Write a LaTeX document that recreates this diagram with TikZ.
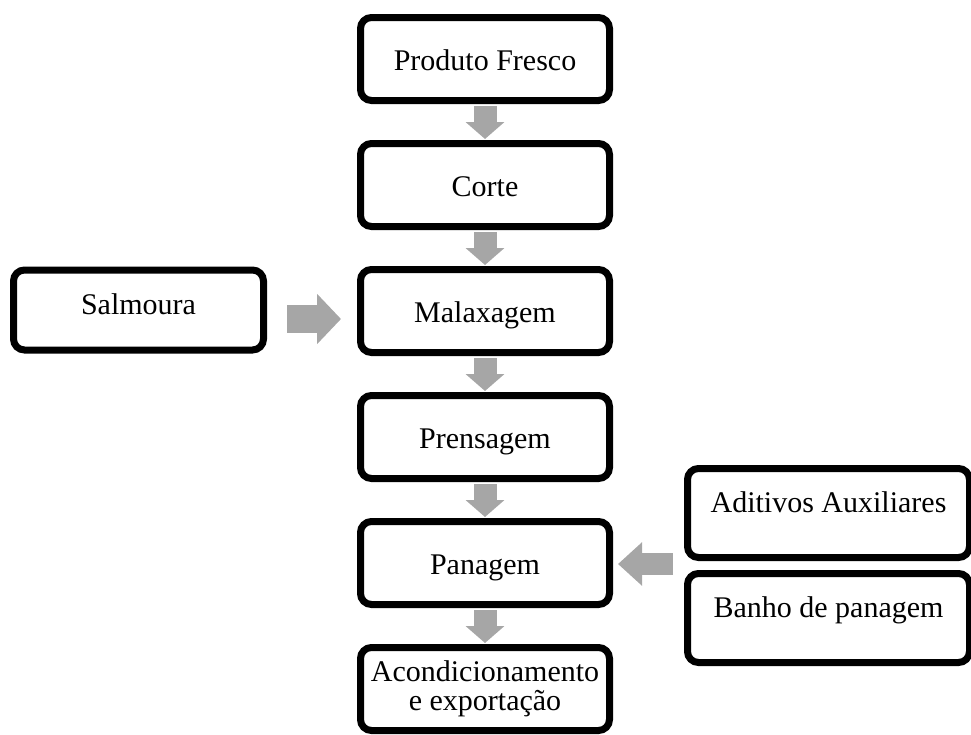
\documentclass[tikz,border=0pt]{standalone}
\usepackage{fontspec}
\setmainfont{Liberation Serif}
\usetikzlibrary{arrows.meta,shadows}
\definecolor{arrowgray}{HTML}{A6A6A6}
\tikzset{
  flowbox/.style={draw=black, line width=7pt, rounded corners=11pt, fill=white,
    drop shadow={shadow xshift=1.5pt, shadow yshift=-1.5pt, opacity=0.3, fill=black!60},
    font=\fontsize{30}{29}\selectfont, align=center, inner sep=2pt},
  mainbox/.style={flowbox, minimum width=249pt, minimum height=83pt, text height=22pt, text depth=0pt},
  twolinebox/.style={flowbox, minimum width=249pt, minimum height=83pt},
  sidebox/.style={flowbox, minimum width=250pt, minimum height=80pt, text height=22pt, text depth=13pt},
  rightbox/.style={flowbox, minimum width=282pt, minimum height=89pt, text height=22pt, text depth=23pt},
  downarrow/.style={draw=arrowgray, line width=23pt, -{Triangle[length=17pt,width=38pt]}},
  bigarrow/.style={draw=arrowgray, line width=28pt, -{Triangle[length=24pt,width=49pt]}},
  leftarrow/.style={draw=arrowgray, line width=22pt, -{Triangle[length=24pt,width=42pt]}}
}
\begin{document}
\begin{tikzpicture}[x=1pt,y=-1pt]
\useasboundingbox (0,0) rectangle (971,734);
\node[mainbox] (prod) at (485,59) {Produto Fresco};
\node[mainbox] (corte) at (485,185) {Corte};
\node[mainbox] (malax) at (485,311) {Malaxagem};
\node[mainbox] (prens) at (485,437) {Prensagem};
\node[mainbox] (pan) at (485,563) {Panagem};
\node[twolinebox] (acond) at (485,689) {Acondicionamento\\e exportação};
\node[sidebox] (salm) at (138.5,310) {Salmoura};
\node[rightbox] (adit) at (828.5,513) {Aditivos Auxiliares};
\node[rightbox] (banho) at (828.5,618) {Banho de panagem};
\coordinate (rg) at (684,564);
\draw[downarrow, shorten <=2pt, shorten >=1pt] (prod.south) -- (corte.north);
\draw[downarrow, shorten <=2pt, shorten >=1pt] (corte.south) -- (malax.north);
\draw[downarrow, shorten <=2pt, shorten >=1pt] (malax.south) -- (prens.north);
\draw[downarrow, shorten <=2pt, shorten >=1pt] (prens.south) -- (pan.north);
\draw[downarrow, shorten <=2pt, shorten >=1pt] (pan.south) -- (acond.north);
\draw[bigarrow, shorten <=20pt, shorten >=16pt] ([yshift=-9pt]salm.east) -- ([yshift=-9pt]salm.east -| malax.west);
\draw[leftarrow, shorten <=11pt, shorten >=5pt] (rg) -- (rg -| pan.east);
\end{tikzpicture}
\end{document}
